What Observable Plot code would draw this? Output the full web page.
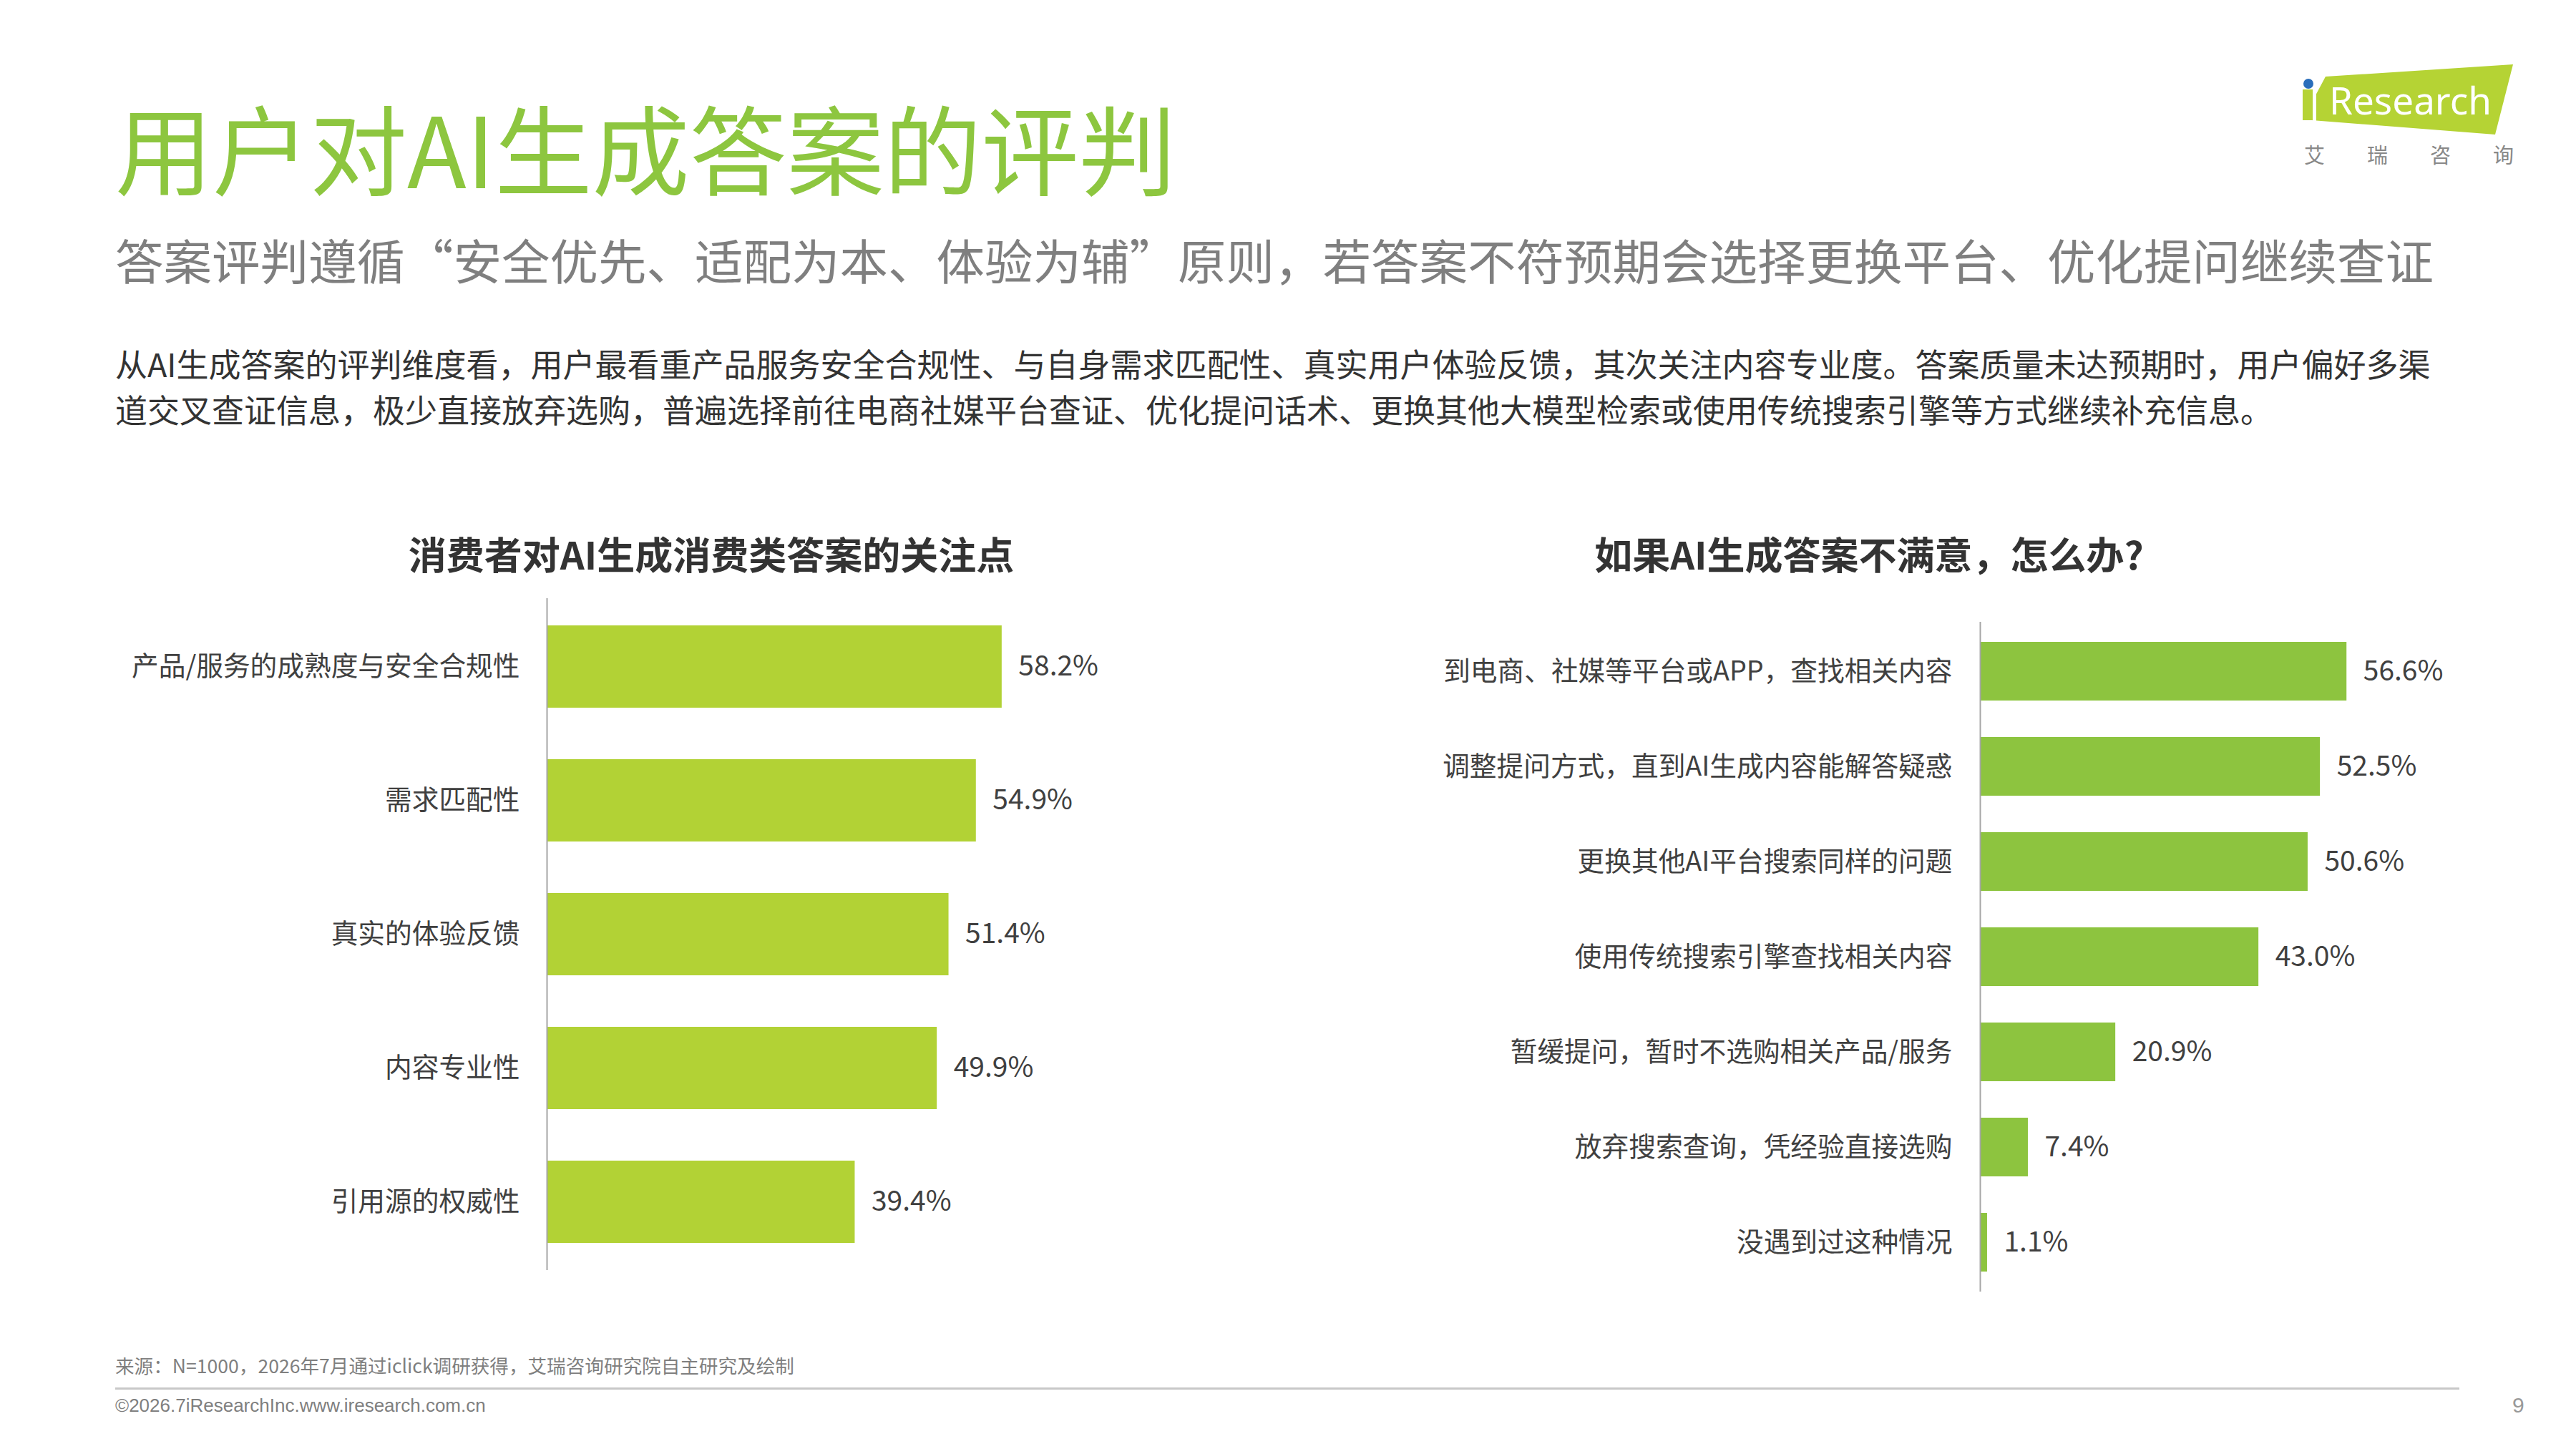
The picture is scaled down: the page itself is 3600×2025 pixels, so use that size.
<!DOCTYPE html>
<html>
<head>
<meta charset="utf-8">
<script src="https://cdn.jsdelivr.net/npm/d3@7"></script>
<script src="https://cdn.jsdelivr.net/npm/@observablehq/plot@0.6"></script>
<style>
  html, body { margin: 0; padding: 0; background: #fff; }
  #page { position: relative; width: 3600px; height: 2025px; overflow: hidden; background: #fff;
          font-family: "Noto Sans CJK SC", "Noto Sans", sans-serif; }
  .abs { position: absolute; white-space: nowrap; line-height: 1; }
</style>
</head>
<body>
<div id="page">
  <div class="abs" style="left:161px; top:136px; font-size:136px; color:#8dc63f;">用户对AI生成答案的评判</div>
  <div class="abs" style="left:161px; top:328px; font-size:67.5px; color:#7f7f7f;">答案评判遵循“安全优先、适配为本、体验为辅”原则，若答案不符预期会选择更换平台、优化提问继续查证</div>
  <div class="abs" style="left:161px; top:485px; font-size:45px; color:#333;">从AI生成答案的评判维度看，用户最看重产品服务安全合规性、与自身需求匹配性、真实用户体验反馈，其次关注内容专业度。答案质量未达预期时，用户偏好多渠</div>
  <div class="abs" style="left:161px; top:549px; font-size:45px; color:#333;">道交叉查证信息，极少直接放弃选购，普遍选择前往电商社媒平台查证、优化提问话术、更换其他大模型检索或使用传统搜索引擎等方式继续补充信息。</div>

  <div class="abs" style="left:994px; top:747px; font-size:53px; font-weight:700; color:#333; transform:translateX(-50%);">消费者对AI生成消费类答案的关注点</div>
  <div class="abs" style="left:2612px; top:747px; font-size:53px; font-weight:700; color:#333; transform:translateX(-50%);">如果AI生成答案不满意，怎么办?</div>

  <div id="left" class="abs" style="left:0px; top:836px;"></div>
  <div id="right" class="abs" style="left:1850px; top:869px;"></div>

  <div class="abs" style="left:161px; top:1895px; font-size:26.6px; color:#7f7f7f;">来源：N=1000，2026年7月通过iclick调研获得，艾瑞咨询研究院自主研究及绘制</div>
  <div class="abs" style="left:161px; top:1939px; width:3276px; height:3px; background:#c8c8c8;"></div>
  <div class="abs" style="left:161px; top:1951px; font-size:26px; color:#7f7f7f; font-family:'Liberation Sans', Arial, sans-serif;">©2026.7iResearchInc.www.iresearch.com.cn</div>
  <div class="abs" style="left:3511px; top:1949px; font-size:30px; color:#999; font-family:'Liberation Sans', Arial, sans-serif;">9</div>

  <svg class="abs" style="left:3150px; top:60px;" width="450" height="200" viewBox="3150 60 450 200">
    <polygon points="3250,107 3512,90 3487,188 3218,167" fill="#b5d334"/>
    <rect x="3218" y="125" width="14" height="43" fill="#b5d334"/>
    <rect x="3232" y="125" width="5" height="44" fill="#ffffff"/>
    <circle cx="3226" cy="117" r="7" fill="#2a6ebb"/>
    <text x="3255" y="160" font-size="53" fill="#ffffff" font-family="'Noto Sans', sans-serif">Research</text>
    <text x="3220" y="228" font-size="29" fill="#888888" font-family="'Noto Sans CJK SC', sans-serif" letter-spacing="59">艾瑞咨询</text>
  </svg>
</div>
<script>
// ---- data ----
const leftCats = ["产品/服务的成熟度与安全合规性", "需求匹配性", "真实的体验反馈", "内容专业性", "引用源的权威性"];
const leftVals = [58.2, 54.9, 51.4, 49.9, 39.4];
const rightCats = ["到电商、社媒等平台或APP，查找相关内容", "调整提问方式，直到AI生成内容能解答疑惑", "更换其他AI平台搜索同样的问题", "使用传统搜索引擎查找相关内容", "暂缓提问，暂时不选购相关产品/服务", "放弃搜索查询，凭经验直接选购", "没遇到过这种情况"];
const rightVals = [56.6, 52.5, 50.6, 43.0, 20.9, 7.4, 1.1];

const fontFamily = '"Noto Sans CJK SC", "Noto Sans", sans-serif';

function makeChart(cats, vals, opts) {
  const data = cats.map((c, i) => ({c, v: vals[i]}));
  return Plot.plot({
    width: opts.width,
    height: opts.height,
    marginLeft: opts.marginLeft,
    marginRight: opts.marginRight,
    marginTop: 0,
    marginBottom: 0,
    style: {fontFamily, color: "#404040", background: "transparent", overflow: "visible"},
    x: {domain: [0, 80], axis: null},
    y: {domain: cats, paddingInner: 0.383, paddingOuter: 0.19, label: null},
    marks: [
      Plot.barX(data, {x: "v", y: "c", fill: opts.color}),
      Plot.text(data, {x: "v", y: "c", text: d => d.v.toFixed(1) + "%", dx: 23, textAnchor: "start", fontSize: 39, fill: "#404040"}),
      Plot.ruleX([0], {stroke: "#a6a6a6", strokeWidth: 2}),
      Plot.axisY({tickSize: 0, tickPadding: opts.tickPadding, fontSize: 37.7, label: null})
    ]
  });
}

document.getElementById("left").appendChild(makeChart(leftCats, leftVals, {
  width: 1700, height: 939, marginLeft: 764, marginRight: 62, color: "#b2d235", tickPadding: 38
}));
document.getElementById("right").appendChild(makeChart(rightCats, rightVals, {
  width: 1700, height: 936, marginLeft: 917, marginRight: 59, color: "#8dc43f", tickPadding: 39
}));
</script>
</body>
</html>
